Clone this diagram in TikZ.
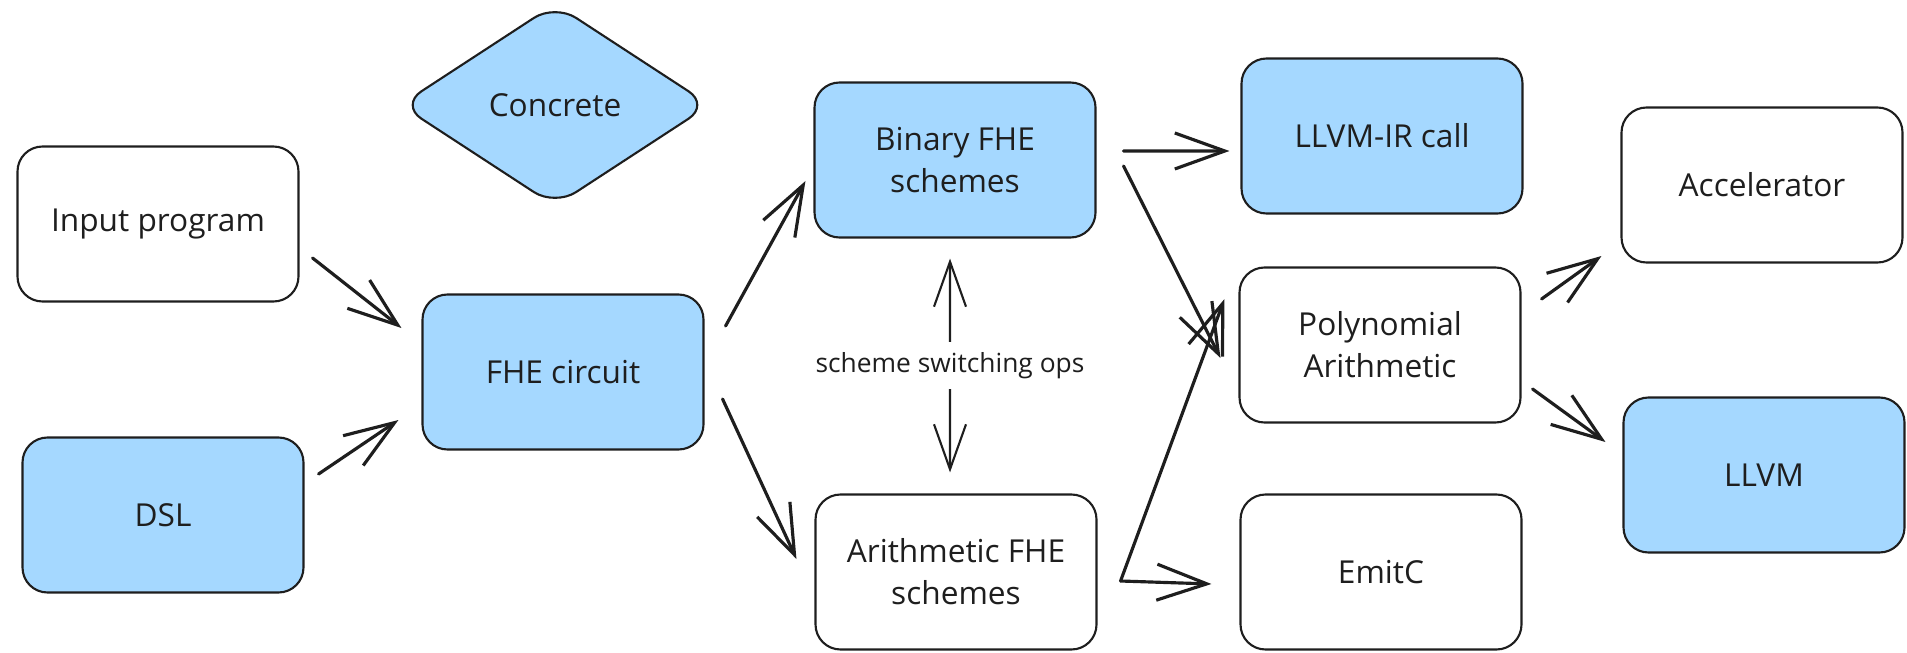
\documentclass[tikz,border=0pt]{standalone}
\usepackage{fontspec}
\setmainfont{Open Sans}
\usetikzlibrary{shapes.geometric,arrows.meta}
\definecolor{exblue}{HTML}{A5D8FF}
\definecolor{ink}{HTML}{1E1E1E}

\begin{document}
\begin{tikzpicture}[x=0.1mm, y=-0.1mm, font=\fontsize{9}{12}\selectfont, text=ink,
        box/.style={draw=ink, line width=0.6pt, rounded corners=2.5mm, minimum width=28.1mm, minimum height=15.5mm, align=center},
        bluebox/.style={box, fill=exblue},
        plainbox/.style={box, fill=white},
        flow/.style={draw=ink, line width=0.9pt, line cap=round, -{Straight Barb[length=5mm,width=3.6mm]}},
        switch/.style={draw=ink, line width=0.6pt, line cap=round, {Straight Barb[length=4.5mm,width=3.2mm]}-{Straight Barb[length=4.5mm,width=3.2mm]}}]

    \useasboundingbox (0,0) rectangle (1907,652);

    \node[plainbox] (inp) at (158,224) {Input program};
    \node[bluebox] (dsl) at (163,515) {DSL};
    \node[bluebox] (fhe) at (563,372) {FHE circuit};
    \node[diamond, draw=ink, fill=exblue, line width=0.6pt, rounded corners=2.5mm, minimum width=31mm, minimum height=18.4mm] (concrete) at (555,105) {Concrete};
    \node[bluebox] (bin) at (955,160) {Binary FHE\\schemes};
    \node[plainbox] (ari) at (956,572) {Arithmetic FHE\\schemes};
    \node[bluebox] (llir) at (1382,136) {LLVM-IR call};
    \node[plainbox] (poly) at (1380,345) {Polynomial\\Arithmetic};
    \node[plainbox] (emitc) at (1381,572) {EmitC};
    \node[plainbox] (acc) at (1762,185) {Accelerator};
    \node[bluebox] (llvm) at (1764,475) {LLVM};

    \coordinate (fork) at ([xshift=2.3mm,yshift=-0.9mm]ari.east);

    \draw[flow] ([xshift=1.3mm,yshift=-3.4mm]inp.east) -- ([xshift=-2mm,yshift=4.4mm]fhe.west);
    \draw[flow] ([xshift=1.4mm,yshift=4.1mm]dsl.east) -- ([xshift=-2.3mm,yshift=-4.8mm]fhe.west);
    \draw[flow] ([xshift=2.1mm,yshift=4.6mm]fhe.east) -- ([xshift=-0.8mm,yshift=-2.1mm]bin.west);
    \draw[flow] ([xshift=1.8mm,yshift=-2.7mm]fhe.east) -- ([xshift=-1.8mm,yshift=1.3mm]ari.west);
    \draw[flow] ([xshift=2.7mm,yshift=0.9mm]bin.east) -- ([xshift=-1.1mm,yshift=-1.5mm]llir.west);
    \draw[flow] ([xshift=2.7mm,yshift=-0.6mm]bin.east) -- ([xshift=-1.8mm,yshift=-1.3mm]poly.west);
    \draw[flow] (fork) -- ([xshift=-1.4mm,yshift=4.6mm]poly.west);
    \draw[flow] (fork) -- ([xshift=-2.8mm,yshift=-1.2mm]emitc.west);
    \draw[flow] ([xshift=2mm,yshift=4.6mm]poly.east) -- ([xshift=-1.9mm,yshift=-7.1mm]acc.west);
    \draw[flow] ([xshift=1.1mm,yshift=-4.4mm]poly.east) -- ([xshift=-1.7mm,yshift=3.3mm]llvm.west);

    \draw[switch] ([xshift=-0.5mm,yshift=-2mm]bin.south) -- node[fill=white, inner sep=3pt, font=\fontsize{7.5}{9}\selectfont] (swlabel) {scheme switching ops} ([xshift=-0.6mm,yshift=2.1mm]ari.north);
\end{tikzpicture}
\end{document}
